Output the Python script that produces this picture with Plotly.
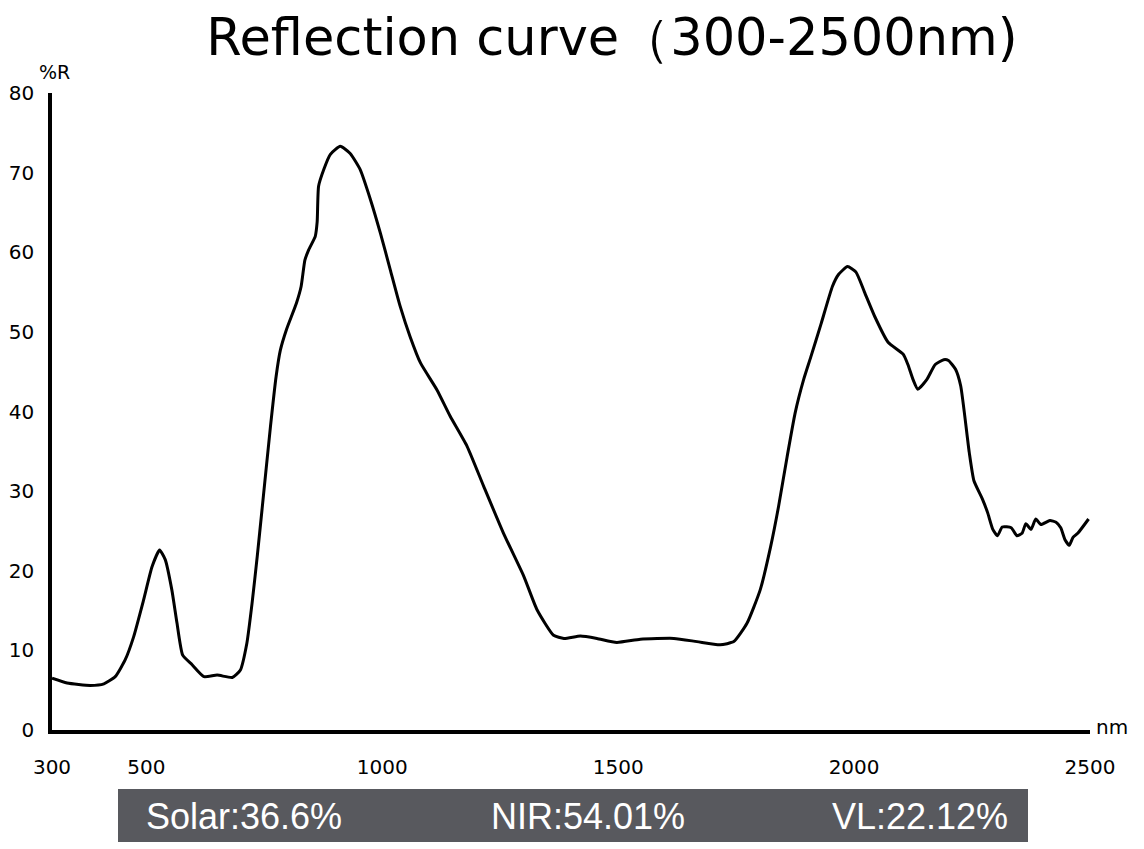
import plotly.graph_objects as go

# wavelength (nm) and reflectance (%R)
wavelength = [
    300, 332, 381, 410, 434, 455, 473, 494, 512, 528, 540, 554, 565, 577,
    597, 622, 650, 682, 699, 713, 724, 735, 745, 763, 775, 784, 797, 818,
    828, 836, 844, 858, 862, 865, 876, 890, 911, 932, 953, 975, 996, 1017,
    1038, 1059, 1081, 1116, 1144, 1180, 1215, 1257, 1300, 1328, 1363, 1385,
    1420, 1455, 1497, 1547, 1618, 1667, 1716, 1745, 1773, 1801, 1823, 1840,
    1858, 1875, 1893, 1908, 1930, 1954, 1967, 1986, 2004, 2022, 2044, 2072,
    2104, 2114, 2125, 2135, 2154, 2172, 2190, 2200, 2215, 2226, 2244, 2254,
    2272, 2283, 2294, 2304, 2314, 2333, 2345, 2356, 2364, 2375, 2385, 2396,
    2415, 2428, 2438, 2447, 2456, 2464, 2474, 2497,
]
reflectance = [
    6.5, 5.9, 5.6, 5.8, 6.7, 8.8, 11.7, 16.3, 20.5, 22.6, 21.4, 17.6, 13.4, 9.4,
    8.2, 6.7, 6.9, 6.6, 7.5, 10.9, 15.9, 21.8, 27.6, 38.1, 44.4, 47.7, 50.3, 53.6,
    55.7, 59.0, 60.3, 62.0, 63.8, 68.3, 70.4, 72.3, 73.3, 72.4, 70.4, 66.6, 62.4, 57.8,
    53.2, 49.4, 46.1, 42.7, 39.4, 35.6, 30.6, 24.7, 19.3, 15.1, 11.9, 11.5,
    11.8, 11.5, 11.0, 11.4, 11.5, 11.1, 10.7, 11.1, 13.4, 17.6, 23.0, 28.1,
    34.3, 39.8, 44.0, 46.8, 51.0, 55.7, 57.2, 58.2, 57.5, 55.0, 51.9, 48.7,
    47.2, 45.9, 44.0, 42.8, 44.0, 45.9, 46.5, 46.4, 45.3, 43.2, 34.9, 31.3,
    29.0, 27.3, 25.2, 24.4, 25.5, 25.4, 24.4, 24.7, 25.9, 25.2, 26.5, 25.8,
    26.3, 26.1, 25.4, 23.9, 23.2, 24.2, 24.7, 26.5,
]

x_ticks = [300, 500, 1000, 1500, 2000, 2500]
y_ticks = [0, 10, 20, 30, 40, 50, 60, 70, 80]
summary = ["Solar:36.6%", "NIR:54.01%", "VL:22.12%"]

# the page body adds an 8px margin, so the figure is 16px smaller than the window
OFF = 8
W, H = 1136, 841
L, R, T, B = 44, 54, 85, 119
PW, PH = W - L - R, H - T - B


def px_x(p):
    # window pixel -> paper x
    return (p - OFF - L) / PW


def px_y(p):
    # window pixel -> paper y
    return (H - B - (p - OFF)) / PH


fig = go.Figure()
fig.add_trace(go.Scatter(
    x=wavelength,
    y=reflectance,
    mode="lines",
    line={"color": "black", "width": 3, "shape": "spline", "smoothing": 0.5},
    hoverinfo="x+y",
))

tick_font = {"family": "DejaVu Sans", "size": 20, "color": "black"}
fig.update_xaxes(
    range=[300, 2500],
    tickvals=x_ticks,
    ticks="",
    showgrid=False,
    zeroline=False,
    showline=True,
    linecolor="black",
    linewidth=3.5,
    tickfont=tick_font,
    ticklabelstandoff=16,
    automargin=False,
)
fig.update_yaxes(
    range=[0, 80],
    tickvals=y_ticks,
    ticks="",
    showgrid=False,
    zeroline=False,
    showline=True,
    linecolor="black",
    linewidth=3.5,
    tickfont=tick_font,
    ticklabelstandoff=10,
    automargin=False,
)

# grey summary band under the axis
fig.add_shape(
    type="rect", xref="paper", yref="paper",
    x0=px_x(118), x1=px_x(1028), y0=px_y(842), y1=px_y(789),
    fillcolor="#58595e", line={"width": 0}, layer="below",
)
for label, cx in zip(summary, [244, 588, 920]):
    fig.add_annotation(
        x=px_x(cx), y=px_y(817), xref="paper", yref="paper",
        xanchor="center", yanchor="middle",
        text=label, showarrow=False,
        font={"family": "Liberation Sans", "size": 36, "color": "white"},
    )

fig.add_annotation(
    x=px_x(54), y=px_y(72), xref="paper", yref="paper",
    xanchor="center", yanchor="middle",
    text="%R", showarrow=False,
    font={"family": "DejaVu Sans", "size": 19, "color": "black"},
)
fig.add_annotation(
    x=px_x(1112), y=px_y(727), xref="paper", yref="paper",
    xanchor="center", yanchor="middle",
    text="nm", showarrow=False,
    font={"family": "DejaVu Sans", "size": 20, "color": "black"},
)

fig.update_layout(
    title={
        "text": "Reflection curve（300-2500nm)",
        "x": (612 - OFF) / W, "xanchor": "center",
        "y": 1 - (37 - OFF) / H, "yanchor": "middle",
        "font": {"family": "DejaVu Sans", "size": 51, "color": "black"},
        "automargin": False,
    },
    width=W,
    height=H,
    margin={"l": L, "r": R, "t": T, "b": B},
    paper_bgcolor="white",
    plot_bgcolor="white",
    showlegend=False,
)

fig.write_html("out.html")
